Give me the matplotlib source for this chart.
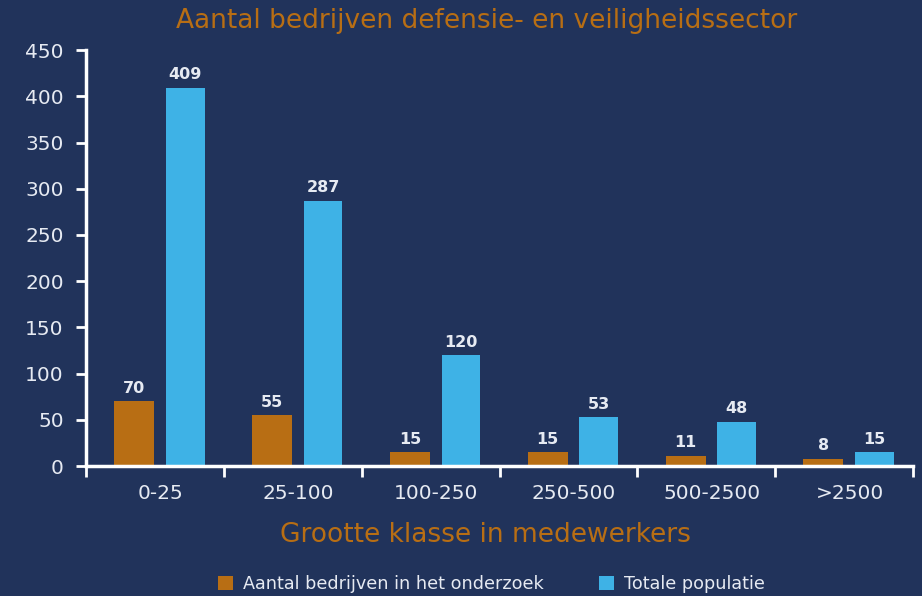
import matplotlib.pyplot as plt
import numpy as np

categories = ["0-25", "25-100", "100-250", "250-500", "500-2500", ">2500"]
onderzoek = [70, 55, 15, 15, 11, 8]
populatie = [409, 287, 120, 53, 48, 15]
yticks = [0, 50, 100, 150, 200, 250, 300, 350, 400, 450]

bg = "#21335B"
orange = "#B86E14"
blue = "#3EB2E6"
txt = "#E6EAF2"

plt.rcParams['font.family'] = ['DejaVu Sans']

fig = plt.figure(figsize=(9.22, 5.96), dpi=100, facecolor=bg)
ax = fig.add_axes([0.0933, 0.218, 0.897, 0.698])
ax.set_facecolor(bg)

x = np.arange(len(categories))
b1 = ax.bar(x - 0.15, onderzoek, width=0.29, color=orange, label="Aantal bedrijven in het onderzoek")
b2 = ax.bar(x + 0.22, populatie, width=0.28, color=blue, label="Totale populatie")

for bars, vals in [(b1, onderzoek), (b2, populatie)]:
    for b, v in zip(bars, vals):
        ax.annotate(str(v), (b.get_x() + b.get_width() / 2, v), xytext=(0, 4),
                    textcoords="offset points", ha="center", va="bottom",
                    color=txt, fontsize=11.5, fontweight="bold")

ax.set_xlim(-0.5, 5.5)
ax.set_ylim(0, 450)
ax.set_yticks(yticks)
ax.tick_params(axis="y", colors="white", labelcolor=txt, labelsize=14.5, length=7, width=2, pad=9)

ax.set_xticks(x + 0.04)
ax.set_xticklabels(categories)
ax.set_xticks(np.arange(-0.5, 6, 1), minor=True)
ax.tick_params(axis="x", which="major", length=0, labelcolor=txt, labelsize=14.5, pad=13)
ax.tick_params(axis="x", which="minor", length=8, width=2, colors="white")

for s in ["top", "right"]:
    ax.spines[s].set_visible(False)
for s in ["left", "bottom"]:
    ax.spines[s].set_color("white")
    ax.spines[s].set_linewidth(2.5)

fig.text(0.528, 0.965, "Aantal bedrijven defensie- en veiligheidssector",
         ha="center", va="center", color=orange, fontsize=19)
fig.text(0.527, 0.102, "Grootte klasse in medewerkers",
         ha="center", va="center", color=orange, fontsize=19)

leg = fig.legend(handles=[b1, b2], loc="center", bbox_to_anchor=(0.533, 0.02), ncol=2,
                 frameon=False, fontsize=12.7, labelcolor=txt, handlelength=0.85,
                 handleheight=0.85, handletextpad=0.6, columnspacing=3.1)

fig.savefig("out.png", dpi=100, facecolor=bg)
